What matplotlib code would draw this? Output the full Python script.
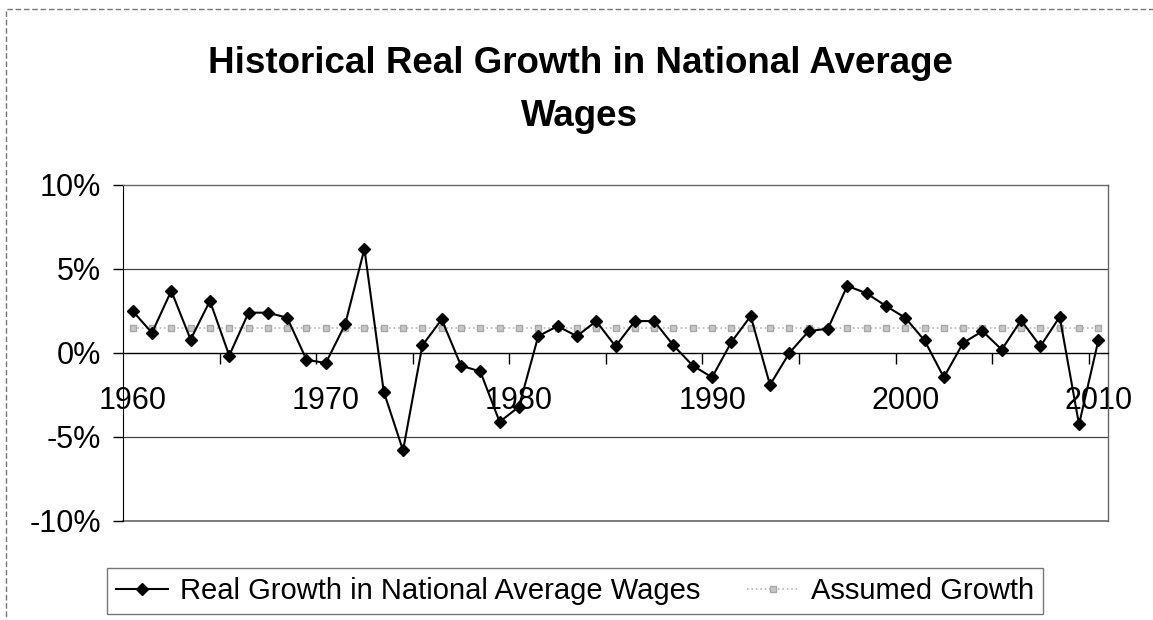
import matplotlib.pyplot as plt
from matplotlib.patches import Rectangle

plt.rcParams['font.family'] = ['Liberation Sans', 'DejaVu Sans']

# Data (percent)
years = list(range(1960, 2011))
real_growth = [2.5, 1.2, 3.7, 0.8, 3.1, -0.15, 2.4, 2.4, 2.1, -0.4,
               -0.6, 1.7, 6.2, -2.3, -5.8, 0.45, 2.0, -0.75, -1.1, -4.1,
               -3.2, 1.0, 1.6, 1.0, 1.9, 0.4, 1.9, 1.9, 0.45, -0.75,
               -1.45, 0.65, 2.2, -1.9, 0.0, 1.3, 1.45, 4.0, 3.55, 2.8,
               2.1, 0.75, -1.45, 0.6, 1.3, 0.2, 1.95, 0.4, 2.15, -4.25,
               0.75]
assumed_growth = [1.5] * len(years)

title = 'Historical Real Growth in National Average\nWages'
label_real = 'Real Growth in National Average Wages'
label_assumed = 'Assumed Growth'

W, H = 1153, 620
fig = plt.figure(figsize=(W / 100, H / 100), dpi=100)
ax = fig.add_axes([123 / W, 1 - 521 / H, 985 / W, 336 / H])

# assumed growth: light gray dotted line with small squares
line_assumed, = ax.plot(years, assumed_growth, color='#b8b8b8', linestyle=':',
                        linewidth=1.2, marker='s', markersize=4.5,
                        markeredgecolor='#a8a8a8', markerfacecolor='#c8c8c8',
                        label=label_assumed, zorder=2)
# historical series
line_real, = ax.plot(years, real_growth, color='black', linewidth=1.5,
                     marker='D', markersize=6.5, label=label_real, zorder=3)

ax.set_xlim(1959.5, 2010.5)
ax.set_ylim(-10, 10)

# gridlines at +/-5
for v in (5, -5):
    ax.axhline(v, color='#444444', linewidth=0.9, zorder=1)

# frame
for side in ('top', 'right'):
    ax.spines[side].set_color('#666666')
    ax.spines[side].set_linewidth(1.0)
ax.axhline(-10, color='#666666', linewidth=1.2, clip_on=False, zorder=1)
ax.spines['left'].set_color('black')
ax.spines['bottom'].set_position(('data', 0))
ax.spines['bottom'].set_color('black')
ax.spines['bottom'].set_linewidth(1.0)

# y axis
ax.set_yticks([-10, -5, 0, 5, 10])
ax.set_yticklabels(['-10%', '-5%', '0%', '5%', '10%'])
ax.tick_params(axis='y', direction='out', length=7, width=1, labelsize=22, pad=9)

# x axis: labels every 10 years, tick marks every 5 categories
ax.set_xticks(list(range(1960, 2011, 10)))
ax.set_xticklabels([str(y) for y in range(1960, 2011, 10)])
ax.set_xticks([y + 0.5 for y in range(1964, 2010, 5)], minor=True)
ax.tick_params(axis='x', which='major', length=0, labelsize=22, pad=24)
ax.tick_params(axis='x', which='minor', direction='out', length=8, width=1)

fig.text(0.503, 1 - 46 / H, title, ha='center', va='top', fontsize=26.5,
         fontweight='bold', linespacing=1.65)

leg = fig.legend(handles=[line_real, line_assumed], loc='center',
                 bbox_to_anchor=(575 / W, 1 - 591 / H), ncol=2,
                 fontsize=21, frameon=True, fancybox=False, handlelength=1.8,
                 handletextpad=0.4, columnspacing=1.6, borderpad=0.3)
leg.get_frame().set_edgecolor('#555555')
leg.get_frame().set_linewidth(1.0)

# outer chart border
fig.patches.append(Rectangle((6 / W, -0.1), 1.2, 1 - 9 / H + 0.1,
                             transform=fig.transFigure, fill=False,
                             edgecolor='#777777', linewidth=1.0,
                             linestyle=(0, (4, 2))))

fig.savefig('out.png', dpi=100)
